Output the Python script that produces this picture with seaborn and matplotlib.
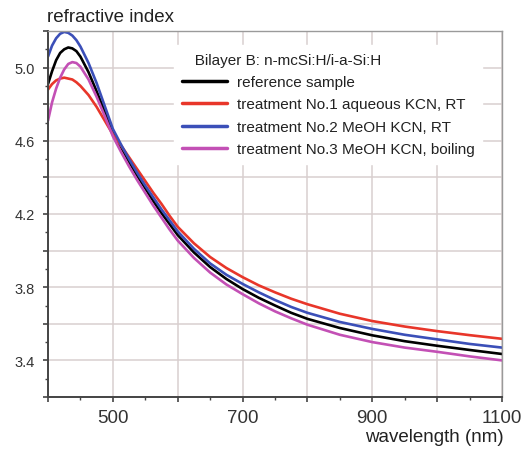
import matplotlib
matplotlib.use("Agg")
import matplotlib.pyplot as plt
import matplotlib.ticker as mticker
import seaborn as sns
import pandas as pd

wavelength = [400, 406.25, 412.5, 418.75, 425, 431.25, 437.5, 443.75, 450, 462.5, 475, 487.5,
              500, 512.5, 525, 537.5, 550, 562.5, 575, 587.5, 600, 625, 650, 675, 700, 725,
              750, 775, 800, 850, 900, 950, 1000, 1050, 1100]
n_reference = [4.91, 4.98, 5.04, 5.08, 5.10, 5.11, 5.105, 5.09, 5.06, 4.975, 4.87, 4.76,
               4.65, 4.565, 4.485, 4.41, 4.34, 4.27, 4.205, 4.145, 4.085, 3.99, 3.91, 3.845,
               3.79, 3.742, 3.70, 3.66, 3.627, 3.577, 3.537, 3.505, 3.48, 3.457, 3.435]
n_treat1 = [4.88, 4.91, 4.93, 4.94, 4.945, 4.94, 4.935, 4.92, 4.90, 4.85, 4.785, 4.71,
            4.635, 4.575, 4.51, 4.445, 4.38, 4.315, 4.255, 4.19, 4.13, 4.04, 3.965, 3.905,
            3.855, 3.81, 3.772, 3.737, 3.707, 3.655, 3.615, 3.585, 3.56, 3.538, 3.518]
n_treat2 = [5.06, 5.12, 5.16, 5.185, 5.195, 5.19, 5.175, 5.15, 5.115, 5.025, 4.915, 4.79,
            4.665, 4.58, 4.50, 4.425, 4.355, 4.29, 4.225, 4.165, 4.105, 4.01, 3.93, 3.868,
            3.818, 3.772, 3.73, 3.692, 3.66, 3.61, 3.572, 3.54, 3.515, 3.49, 3.47]
n_treat3 = [4.71, 4.81, 4.885, 4.945, 4.99, 5.02, 5.03, 5.025, 5.005, 4.935, 4.84, 4.735,
            4.625, 4.54, 4.46, 4.385, 4.315, 4.245, 4.18, 4.115, 4.055, 3.96, 3.88, 3.815,
            3.762, 3.712, 3.668, 3.63, 3.595, 3.54, 3.50, 3.47, 3.447, 3.422, 3.40]

labels = ["reference sample",
          "treatment No.1 aqueous KCN, RT",
          "treatment No.2 MeOH KCN, RT",
          "treatment No.3 MeOH KCN, boiling"]
colors = ["#000000", "#e8362a", "#3b4fb8", "#c350b5"]
legend_title = "   Bilayer B: n-mcSi:H/i-a-Si:H"
x_label_ticks = [500, 700, 900, 1100]
y_label_ticks = [3.4, 3.8, 4.2, 4.6, 5.0]

series = [n_reference, n_treat1, n_treat2, n_treat3]
rows = []
for lab, vals in zip(labels, series):
    for w, v in zip(wavelength, vals):
        rows.append({"wavelength": w, "n": v, "sample": lab})
df = pd.DataFrame(rows)

sns.set_style("white")
plt.rcParams["font.family"] = ["Liberation Sans", "DejaVu Sans"]

fig = plt.figure(figsize=(5.26, 4.52), dpi=100)
ax = fig.add_axes([48/526, 1-398/452, 454/526, 366/452])

sns.lineplot(data=df, x="wavelength", y="n", hue="sample", hue_order=labels,
             palette=dict(zip(labels, colors)), linewidth=1.9, ax=ax, legend=True)
for line in ax.get_lines():
    line.set_solid_joinstyle("round")
    line.set_solid_capstyle("round")

ax.set_xlim(400, 1100)
ax.set_ylim(3.2, 5.2)

ax.xaxis.set_major_locator(mticker.MultipleLocator(100))
ax.xaxis.set_minor_locator(mticker.MultipleLocator(50))
ax.yaxis.set_major_locator(mticker.MultipleLocator(0.2))
ax.yaxis.set_minor_locator(mticker.MultipleLocator(0.1))

def xfmt(v, pos):
    for t in x_label_ticks:
        if abs(v - t) < 1e-6:
            return f"{t:d}"
    return ""

def yfmt(v, pos):
    for t in y_label_ticks:
        if abs(v - t) < 1e-6:
            return f"{t:.1f}"
    return ""

ax.xaxis.set_major_formatter(mticker.FuncFormatter(xfmt))
ax.yaxis.set_major_formatter(mticker.FuncFormatter(yfmt))

ax.grid(True, which="major", color="#d9cfcf", linewidth=1.1)
ax.set_axisbelow(True)

for s in ["left", "bottom"]:
    ax.spines[s].set_color("#444444")
    ax.spines[s].set_linewidth(1.4)
for s in ["top", "right"]:
    ax.spines[s].set_color("#9a9a9a")
    ax.spines[s].set_linewidth(1.0)

ax.tick_params(axis="both", which="both", bottom=True, left=True, top=False, right=False)
ax.tick_params(axis="both", which="major", direction="out", length=3.8, width=1.2, color="#444444")
ax.tick_params(axis="both", which="minor", direction="out", length=2.2, width=1.0, color="#444444")
ax.tick_params(axis="x", which="major", labelsize=13.5, pad=5, labelcolor="#333333")
ax.tick_params(axis="y", which="major", labelsize=10.5, pad=5.5, labelcolor="#333333")

ax.set_xlabel("")
ax.set_ylabel("")
fig.text(47/526, 1-18/452, "refractive index", fontsize=13.5, color="#222222", ha="left", va="center")
fig.text(504/526, 1-438/452, "wavelength (nm)", fontsize=13.5, color="#222222", ha="right", va="center")

handles, labs = ax.get_legend_handles_labels()
leg = ax.legend(handles, labs, title=legend_title, loc="upper right",
                bbox_to_anchor=((482-48)/454, 1-(46-32)/366), borderaxespad=0,
                frameon=True, facecolor="white", edgecolor="white", framealpha=1,
                fontsize=11, title_fontsize=11, handlelength=3.0, handletextpad=0.6,
                labelspacing=0.55, borderpad=0.5, alignment="left")
for line in leg.get_lines():
    line.set_linewidth(2.5)
for t in leg.get_texts():
    t.set_color("#222222")
leg.get_title().set_color("#222222")

fig.savefig("out.png", dpi=100, facecolor="white")
